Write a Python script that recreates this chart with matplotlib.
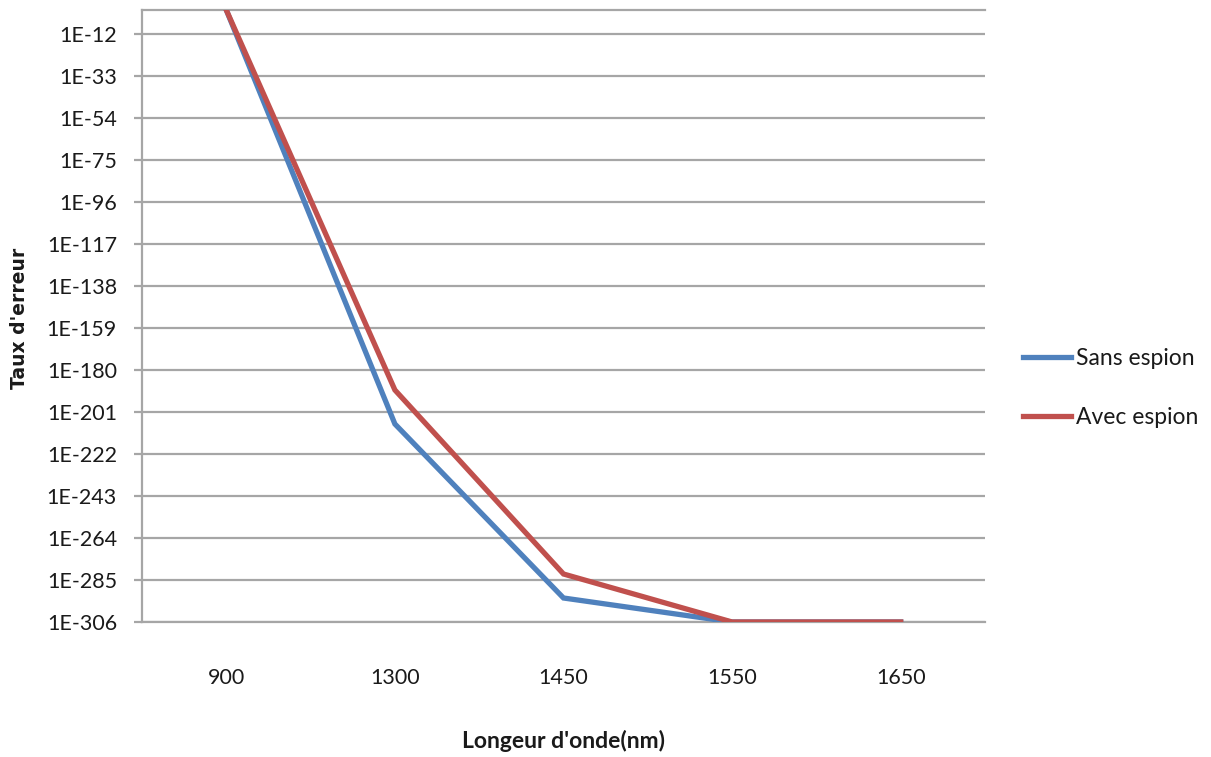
import numpy as np
import matplotlib
matplotlib.use("Agg")
import matplotlib.pyplot as plt
from matplotlib.ticker import FixedLocator, FuncFormatter, NullLocator

plt.rcParams['font.family'] = ['Lato', 'DejaVu Sans']

# Wavelength categories (nm) and error rates for both scenarios
wavelengths = ["900", "1300", "1450", "1550", "1650"]
sans_espion = [1e0, 1e-207, 1e-294, 1e-306, 1e-306]
avec_espion = [1e0, 1e-190, 1e-282, 1e-306, 1e-306]
y_tick_exponents = list(range(-306, 0, 21))

BLUE = "#4F81BD"
RED = "#C0504D"
GRID = "#A6A6A6"

fig = plt.figure(figsize=(12.11, 7.57), dpi=100)
ax = fig.add_axes([142 / 1211, 1 - 622 / 757, (985 - 142) / 1211, (622 - 10) / 757])

x = np.arange(len(wavelengths))
ax.plot(x, sans_espion, color=BLUE, lw=3.8, label="Sans espion", solid_joinstyle="miter", zorder=3)
ax.plot(x, avec_espion, color=RED, lw=3.8, label="Avec espion", solid_joinstyle="miter", zorder=4)

ax.set_yscale("log")
ax.set_ylim(1e-306, 1e0)
ax.set_xlim(-0.5, len(wavelengths) - 0.5)

ax.yaxis.set_major_locator(FixedLocator([10.0 ** e for e in y_tick_exponents]))
ax.yaxis.set_minor_locator(NullLocator())
ax.yaxis.set_major_formatter(FuncFormatter(lambda v, p: f"1E{int(round(np.log10(v)))}"))
ax.set_xticks(x)
ax.set_xticklabels(wavelengths)

ax.grid(axis="y", color=GRID, lw=1.6)
ax.set_axisbelow(True)
ax.spines["right"].set_visible(False)
for side in ("left", "bottom", "top"):
    ax.spines[side].set_color(GRID)
    ax.spines[side].set_linewidth(1.6)

ax.tick_params(axis="y", direction="out", length=6, width=1.6, color=GRID,
               labelsize=15.5, pad=12, labelcolor="#1a1a1a")
ax.tick_params(axis="x", length=0, labelsize=15.5, pad=33, labelcolor="#1a1a1a")

fig.text(20 / 1211, 1 - 318 / 757, "Taux d'erreur", rotation=90, ha="center", va="center",
         fontsize=13.5, fontweight="bold", family="DejaVu Sans", color="#1a1a1a")
fig.text(564 / 1211, 1 - 741 / 757, "Longeur d'onde(nm)", ha="center", va="center",
         fontsize=16.5, fontweight="bold", color="#1a1a1a")

fig.legend(loc="center left", bbox_to_anchor=(1002 / 1211, 1 - 388 / 757), frameon=False,
           fontsize=16.5, handlelength=2.1, handletextpad=0.25, labelspacing=1.62,
           labelcolor="#1a1a1a")

fig.savefig("out.png", dpi=100)
